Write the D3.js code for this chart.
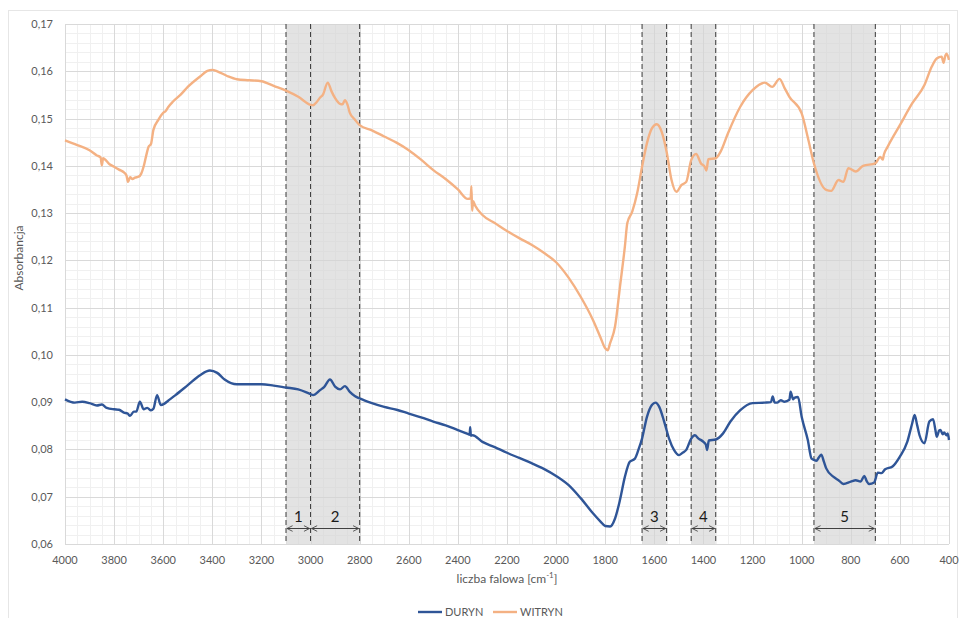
<!DOCTYPE html>
<html>
<head>
<meta charset="utf-8">
<script src="https://cdn.jsdelivr.net/npm/d3@7"></script>
<style>
  html, body { margin: 0; padding: 0; background: #fff; }
  svg { display: block; font-family: Lato, "Open Sans", sans-serif; }
</style>
</head>
<body>
<svg id="chart" width="960" height="618"></svg>
<script>
// FTIR spectra: wavenumber [cm-1] and absorbance
const durynWave = [4000,3960,3930,3900,3870,3850,3830,3800,3780,3760,3745,3735,3720,3710,3695,3680,3665,3650,3640,3625,3610,3595,3580,3550,3500,3450,3410,3380,3350,3300,3250,3200,3150,3100,3050,3000,2990,2960,2945,2921,2900,2880,2860,2840,2820,2800,2750,2700,2650,2600,2550,2500,2450,2400,2360,2352,2350,2347,2340,2300,2250,2200,2150,2100,2050,2000,1950,1900,1850,1820,1800,1780,1760,1740,1720,1700,1680,1665,1650,1630,1610,1595,1580,1560,1540,1520,1500,1485,1470,1450,1435,1420,1400,1390,1385,1378,1350,1320,1290,1250,1200,1150,1125,1118,1110,1100,1085,1070,1050,1045,1035,1030,1015,1000,975,960,950,940,930,920,910,900,870,850,830,800,780,760,745,735,725,705,690,675,660,630,600,570,550,540,530,520,500,480,465,455,450,440,435,425,420,410,405,400];
const durynAbs  = [0.0906,0.0899,0.0901,0.0898,0.0893,0.0895,0.0888,0.0885,0.0884,0.0878,0.0876,0.0871,0.0880,0.0880,0.0901,0.0885,0.0888,0.0883,0.0886,0.0915,0.0894,0.0897,0.0903,0.0915,0.0936,0.0957,0.0967,0.0962,0.0948,0.0938,0.0938,0.0938,0.0935,0.0931,0.0927,0.0917,0.0915,0.0926,0.0932,0.0948,0.0933,0.0927,0.0934,0.0922,0.0913,0.0908,0.0898,0.0890,0.0884,0.0876,0.0868,0.0859,0.0851,0.0841,0.0833,0.0831,0.0847,0.0829,0.0830,0.0816,0.0805,0.0793,0.0782,0.0771,0.0759,0.0744,0.0725,0.0697,0.0665,0.0648,0.0638,0.0637,0.0654,0.0693,0.0742,0.0774,0.0780,0.0799,0.0823,0.0869,0.0894,0.0899,0.0890,0.0859,0.0823,0.0799,0.0788,0.0793,0.0799,0.0823,0.0830,0.0823,0.0816,0.0810,0.0799,0.0819,0.0821,0.0834,0.0859,0.0883,0.0898,0.0899,0.0900,0.0912,0.0899,0.0899,0.0904,0.0901,0.0905,0.0922,0.0906,0.0909,0.0911,0.0869,0.0820,0.0781,0.0778,0.0776,0.0783,0.0789,0.0775,0.0760,0.0742,0.0735,0.0727,0.0732,0.0735,0.0732,0.0744,0.0733,0.0727,0.0730,0.0751,0.0750,0.0758,0.0764,0.0785,0.0816,0.0855,0.0873,0.0852,0.0830,0.0813,0.0859,0.0864,0.0840,0.0827,0.0840,0.0841,0.0832,0.0836,0.0830,0.0834,0.0820];

const witrynWave = [4000,3950,3900,3870,3855,3850,3845,3820,3800,3780,3760,3750,3743,3735,3725,3715,3700,3690,3680,3670,3660,3650,3640,3620,3600,3590,3580,3560,3530,3500,3450,3420,3400,3380,3340,3300,3250,3200,3150,3100,3050,3000,2990,2975,2960,2950,2930,2915,2900,2880,2870,2860,2850,2840,2820,2800,2750,2700,2650,2600,2550,2500,2450,2400,2360,2348,2345,2342,2338,2330,2300,2250,2200,2150,2100,2050,2000,1950,1900,1850,1820,1800,1790,1780,1760,1740,1720,1710,1690,1670,1650,1630,1610,1590,1570,1550,1530,1510,1490,1470,1450,1430,1410,1395,1388,1380,1350,1330,1300,1250,1200,1150,1120,1090,1070,1050,1000,975,950,900,880,850,830,810,780,750,700,680,670,665,650,600,550,500,470,450,430,422,415,410,400];
const witrynAbs  = [0.1454,0.1444,0.1433,0.1422,0.1418,0.1401,0.1416,0.1404,0.1398,0.1392,0.1386,0.1380,0.1366,0.1376,0.1372,0.1375,0.1377,0.1383,0.1398,0.1420,0.1440,0.1446,0.1476,0.1497,0.1512,0.1516,0.1524,0.1536,0.1550,0.1567,0.1589,0.1601,0.1603,0.1600,0.1590,0.1583,0.1581,0.1579,0.1569,0.1559,0.1546,0.1529,0.1528,0.1535,0.1545,0.1550,0.1576,0.1558,0.1543,0.1531,0.1530,0.1539,0.1530,0.1512,0.1498,0.1486,0.1475,0.1462,0.1449,0.1433,0.1413,0.1391,0.1372,0.1350,0.1330,0.1331,0.1357,0.1305,0.1325,0.1316,0.1296,0.1279,0.1262,0.1247,0.1233,0.1216,0.1196,0.1164,0.1123,0.1074,0.1038,0.1014,0.1010,0.1025,0.1060,0.1144,0.1229,0.1279,0.1303,0.1342,0.1398,0.1448,0.1479,0.1488,0.1472,0.1430,0.1370,0.1345,0.1359,0.1366,0.1412,0.1425,0.1405,0.1398,0.1390,0.1414,0.1416,0.1430,0.1469,0.1525,0.1560,0.1576,0.1567,0.1584,0.1565,0.1546,0.1511,0.1460,0.1405,0.1349,0.1347,0.1370,0.1366,0.1395,0.1388,0.1400,0.1405,0.1419,0.1413,0.1424,0.1440,0.1486,0.1532,0.1571,0.1610,0.1627,0.1631,0.1618,0.1633,0.1637,0.1624];

// Marked band ranges [from, to] in cm-1
const bandFrom  = [3100, 3000, 1650, 1450, 950];
const bandTo    = [3000, 2800, 1550, 1350, 700];
const bandLabel = ["1", "2", "3", "4", "5"];

const xTicks = [4000,3800,3600,3400,3200,3000,2800,2600,2400,2200,2000,1800,1600,1400,1200,1000,800,600,400];
const yTicks = [0.06,0.07,0.08,0.09,0.10,0.11,0.12,0.13,0.14,0.15,0.16,0.17];

const seriesNames  = ["DURYN", "WITRYN"];
const seriesColors = ["#2F5597", "#F4B183"];

const svg = d3.select("#chart");
const plotL = 65, plotR = 949, plotT = 24, plotB = 544;

const x = d3.scaleLinear().domain([4000, 400]).range([plotL, plotR]);
const y = d3.scaleLinear().domain([0.06, 0.17]).range([plotB, plotT]);

// outer chart frame
svg.append("rect")
  .attr("x", 8.5).attr("y", 10.5).attr("width", 949).attr("height", 620)
  .attr("fill", "none").attr("stroke", "#e6e6e6").attr("stroke-width", 1);

// minor grid
const g = svg.append("g");
g.append("g").selectAll("line").data(d3.range(4000, 399, -50))
  .join("line")
  .attr("x1", d => Math.round(x(d)) + 0.5).attr("x2", d => Math.round(x(d)) + 0.5)
  .attr("y1", plotT).attr("y2", plotB)
  .attr("stroke", "#f0f0f0");
g.append("g").selectAll("line").data(d3.range(0, 56).map(i => 0.06 + i * 0.002))
  .join("line")
  .attr("y1", d => Math.round(y(d)) + 0.5).attr("y2", d => Math.round(y(d)) + 0.5)
  .attr("x1", plotL).attr("x2", plotR)
  .attr("stroke", "#f0f0f0");

// major grid
g.append("g").selectAll("line").data(xTicks)
  .join("line")
  .attr("x1", d => Math.round(x(d)) + 0.5).attr("x2", d => Math.round(x(d)) + 0.5)
  .attr("y1", plotT).attr("y2", plotB)
  .attr("stroke", "#d9d9d9");
g.append("g").selectAll("line").data(yTicks)
  .join("line")
  .attr("y1", d => Math.round(y(d)) + 0.5).attr("y2", d => Math.round(y(d)) + 0.5)
  .attr("x1", plotL).attr("x2", plotR)
  .attr("stroke", "#d9d9d9");

// shaded bands
const bands = bandFrom.map((f, i) => ({ from: f, to: bandTo[i], label: bandLabel[i] }));
svg.append("g").selectAll("rect").data(bands)
  .join("rect")
  .attr("x", d => x(d.from)).attr("width", d => x(d.to) - x(d.from))
  .attr("y", plotT).attr("height", plotB - plotT)
  .attr("fill", "#d4d4d4").attr("fill-opacity", 0.65);

// band edges (dashed)
const edges = Array.from(new Set(bandFrom.concat(bandTo)));
svg.append("g").selectAll("line").data(edges)
  .join("line")
  .attr("x1", d => x(d)).attr("x2", d => x(d))
  .attr("y1", plotT).attr("y2", plotB)
  .attr("stroke", "#3a3a3a").attr("stroke-width", 1)
  .attr("stroke-dasharray", "5,3");

// axes tick labels
svg.append("g").selectAll("text").data(yTicks)
  .join("text")
  .attr("x", 53).attr("y", d => y(d) + 4)
  .attr("text-anchor", "end")
  .attr("font-size", 11).attr("fill", "#595959")
  .text(d => d3.format(".2f")(d).replace(".", ","));

svg.append("g").selectAll("text").data(xTicks)
  .join("text")
  .attr("x", d => x(d)).attr("y", 564)
  .attr("text-anchor", "middle")
  .attr("font-size", 11).attr("fill", "#595959")
  .text(d => d);

// axis titles
const xt = svg.append("text")
  .attr("x", 507).attr("y", 583)
  .attr("text-anchor", "middle")
  .attr("font-size", 12).attr("fill", "#595959");
xt.append("tspan").text("liczba falowa [cm");
xt.append("tspan").attr("dy", -5).attr("font-size", 8).text("-1");
xt.append("tspan").attr("dy", 5).text("]");

svg.append("text")
  .attr("transform", "translate(23,258) rotate(-90)")
  .attr("text-anchor", "middle")
  .attr("font-size", 12).attr("fill", "#595959")
  .text("Absorbancja");

// spectra
const line = d3.line()
  .x(d => x(d[0])).y(d => y(d[1]))
  .curve(d3.curveMonotoneX);

const series = [
  durynWave.map((w, i) => [w, durynAbs[i]]),
  witrynWave.map((w, i) => [w, witrynAbs[i]])
];

svg.append("g").selectAll("path").data(series)
  .join("path")
  .attr("d", line)
  .attr("fill", "none")
  .attr("stroke", (d, i) => seriesColors[i])
  .attr("stroke-width", 2.4)
  .attr("stroke-linejoin", "round");

// band arrows and labels
const defs = svg.append("defs");
defs.append("marker")
  .attr("id", "head").attr("viewBox", "0 0 10 10")
  .attr("refX", 9).attr("refY", 5)
  .attr("markerWidth", 7).attr("markerHeight", 7)
  .attr("orient", "auto-start-reverse")
  .attr("markerUnits", "userSpaceOnUse")
  .append("path").attr("d", "M1,1 L9,5 L1,9")
  .attr("fill", "none").attr("stroke", "#404040").attr("stroke-width", 1.2);

const ann = svg.append("g");
ann.selectAll("line").data(bands)
  .join("line")
  .attr("x1", d => x(d.from) + 1).attr("x2", d => x(d.to) - 1)
  .attr("y1", 528.5).attr("y2", 528.5)
  .attr("stroke", "#404040").attr("stroke-width", 1)
  .attr("marker-start", "url(#head)").attr("marker-end", "url(#head)");
ann.selectAll("text").data(bands)
  .join("text")
  .attr("x", d => (x(d.from) + x(d.to)) / 2).attr("y", 522)
  .attr("text-anchor", "middle")
  .attr("font-size", 15).attr("fill", "#1a1a1a")
  .text(d => d.label);

// legend
const leg = svg.append("g");
const legX = [418, 493];
seriesNames.forEach((n, i) => {
  leg.append("line")
    .attr("x1", legX[i]).attr("x2", legX[i] + 24)
    .attr("y1", 612).attr("y2", 612)
    .attr("stroke", seriesColors[i]).attr("stroke-width", 2.4);
  leg.append("text")
    .attr("x", legX[i] + 27).attr("y", 616)
    .attr("font-size", 11).attr("fill", "#595959")
    .text(n);
});
</script>
</body>
</html>
